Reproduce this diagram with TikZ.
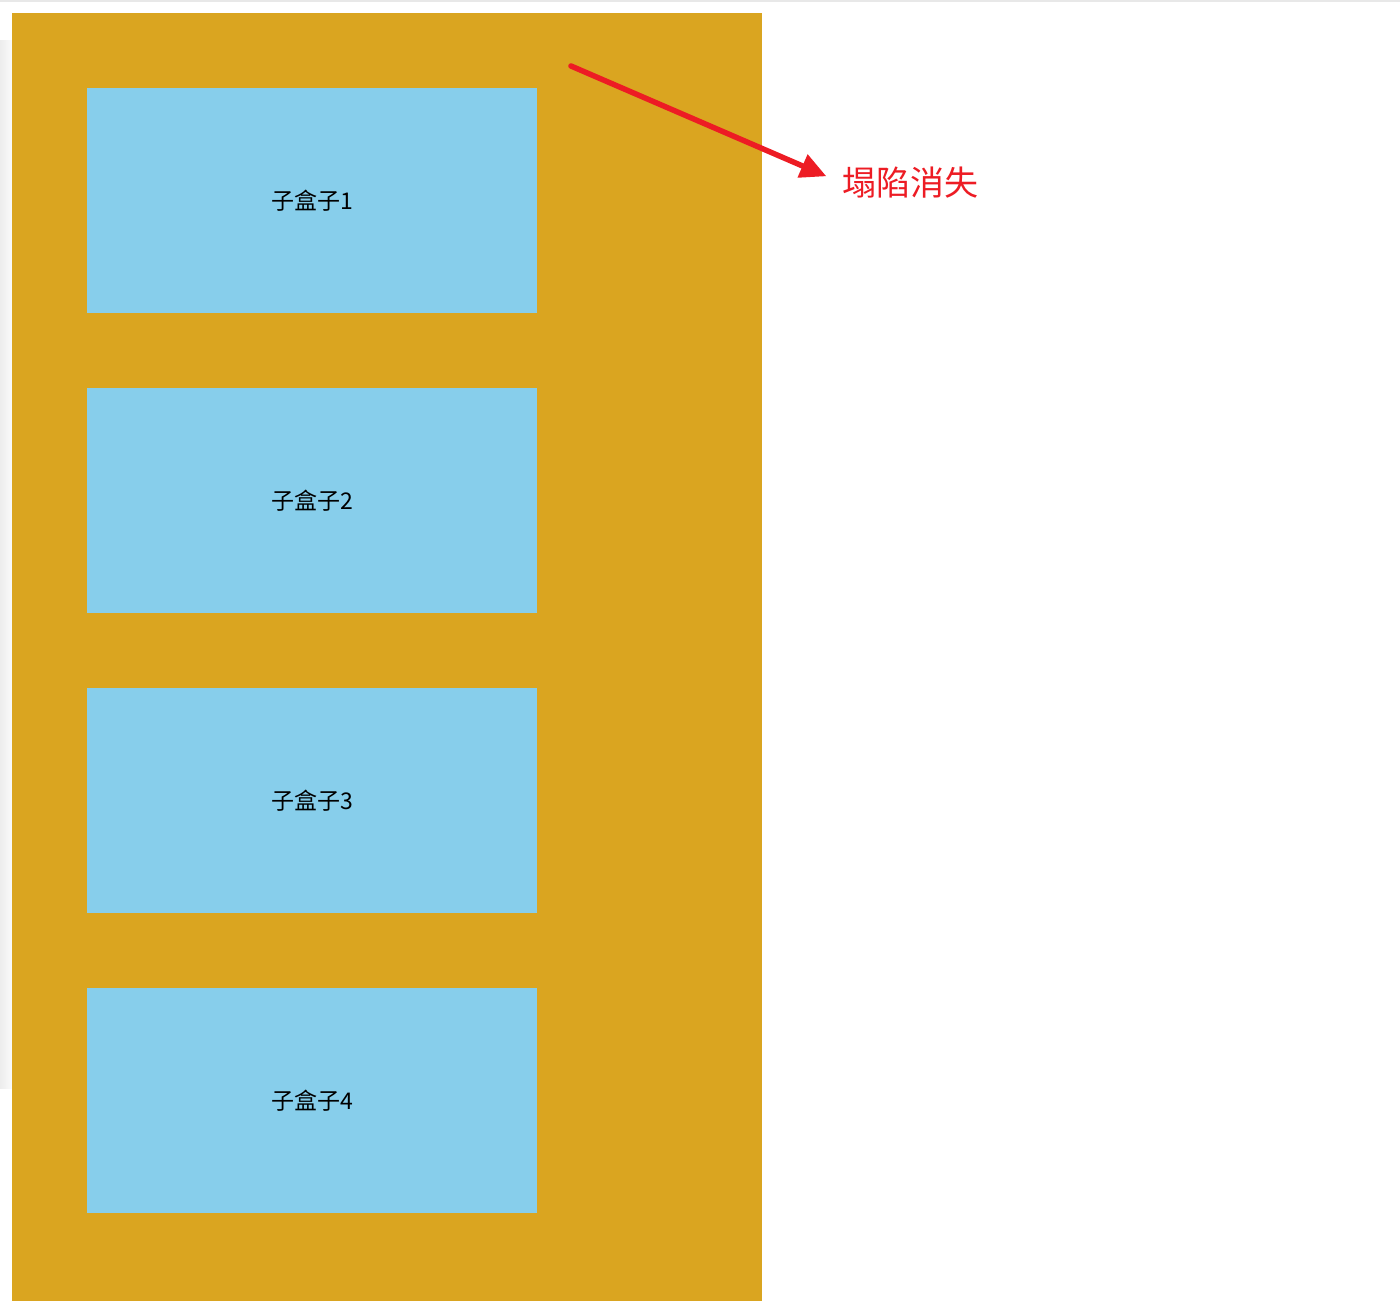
\documentclass[tikz,border=0pt]{standalone}
\usepackage{fontspec}
\newfontfamily\cjk{Noto Sans CJK SC}
\usetikzlibrary{arrows.meta}
\definecolor{gold}{HTML}{DAA520}
\definecolor{sky}{HTML}{87CEEB}
\definecolor{redarrow}{HTML}{ED1C24}
\tikzset{
  childbox/.style={fill=sky, draw=none, minimum width=450pt, minimum height=225pt, inner sep=0pt, font=\cjk\fontsize{23}{27}\selectfont, text=black},
  parentbox/.style={fill=gold, draw=none, minimum width=750pt, minimum height=1288pt, inner sep=0pt},
}
\begin{document}
\begin{tikzpicture}[x=1pt,y=-1pt]
\useasboundingbox (0,0) rectangle (1400,1301);
\fill[white] (0,0) rectangle (1400,1301);
\fill[gray!18] (0,0) rectangle (1400,1.5);
\shade[left color=gray!14, right color=gray!4] (0,40) rectangle (12,1088);
\node[parentbox, anchor=north west] (parent) at (12,13) {};
\node[childbox] (c1) at (312,200.5) {子盒子1};
\node[childbox] (c2) at (312,500.5) {子盒子2};
\node[childbox] (c3) at (312,800.5) {子盒子3};
\node[childbox] (c4) at (312,1100.5) {子盒子4};
\node[text=redarrow, font=\cjk\fontsize{34}{39}\selectfont, anchor=west, inner sep=0pt] (lbl) at (842,183) {塌陷消失};
\coordinate (start) at (571,66);
\draw[redarrow, line width=5.5pt, line cap=round, shorten >=17pt, -{Triangle[length=26pt,width=24pt]}] (start) -- (lbl.west);
\end{tikzpicture}
\end{document}
